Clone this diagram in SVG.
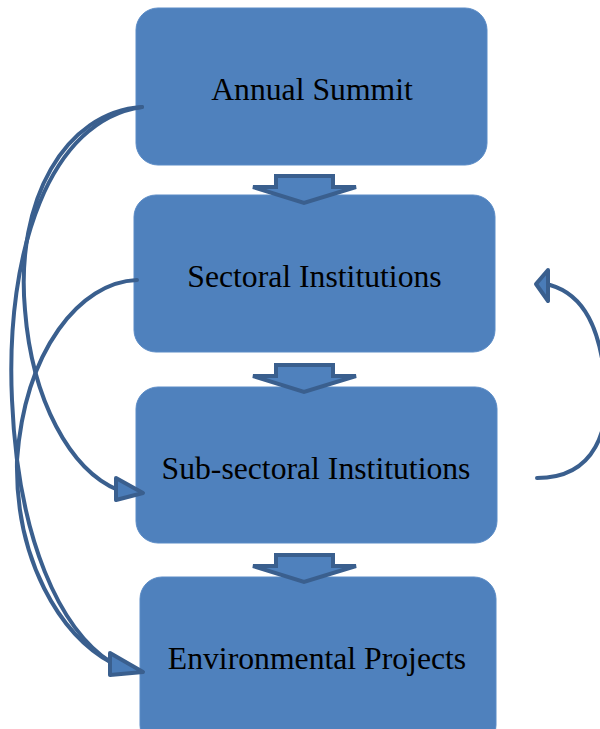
<svg xmlns="http://www.w3.org/2000/svg" width="600" height="729" viewBox="0 0 600 729">
  <style>
    .box { fill: #4f81bd; stroke: #5a8bc6; stroke-width: 1; }
    .label { font-family: "Liberation Serif", "Times New Roman", serif; font-size: 31.7px; fill: #000; text-anchor: middle; }
    .flow { fill: #4f81bd; stroke: #3a5f8e; stroke-width: 4; stroke-linejoin: miter; }
    .link { fill: none; stroke: #3a5f8e; stroke-width: 4; stroke-linecap: round; }
    .head { fill: #4a7cb8; stroke: #3a5f8e; stroke-width: 4; stroke-linejoin: round; }
  </style>
  <defs>
    <!-- down-pointing block arrow between stacked boxes -->
    <polygon id="down" points="276,0 333,0 333,11 356,11 304,27 253,11 276,11"/>
  </defs>
  <rect width="600" height="729" fill="#fff"/>

  <g id="node-annual-summit">
    <rect class="box" x="136" y="8" width="351" height="157" rx="22"/>
    <text class="label" x="312" y="100">Annual Summit</text>
  </g>
  <g id="node-sectoral">
    <rect class="box" x="134" y="195" width="361" height="157" rx="22"/>
    <text class="label" x="314.5" y="287">Sectoral Institutions</text>
  </g>
  <g id="node-subsectoral">
    <rect class="box" x="136" y="387" width="361" height="156" rx="22"/>
    <text class="label" x="316" y="479">Sub-sectoral Institutions</text>
  </g>
  <g id="node-environmental">
    <rect class="box" x="140" y="577" width="356" height="170" rx="22"/>
    <text class="label" x="317" y="669">Environmental Projects</text>
  </g>

  <g id="connectors">
    <!-- block arrows down the stack -->
    <use href="#down" class="flow" y="176"/>
    <use href="#down" class="flow" y="365"/>
    <use href="#down" class="flow" y="555"/>

    <!-- Annual Summit to Sub-sectoral Institutions -->
    <path class="link" d="M142,107 C65,112 15,200 25,310 C32,400 70,470 118,490"/>
    <polygon class="head" points="116,478 143,493 116,500"/>

    <!-- Annual Summit to Environmental Projects -->
    <path class="link" d="M142,107 C50,120 5,250 12,400 C18,540 60,630 112,663"/>
    <!-- Sectoral Institutions to Environmental Projects -->
    <path class="link" d="M137,280 C80,282 25,350 17,460 C15,560 60,635 112,663"/>
    <polygon class="head" points="110,653 143,672 110,675"/>

    <!-- feedback: Sub-sectoral back to Sectoral -->
    <path class="link" d="M537,478 C596,478 611,428 605,380 C600,330 585,295 550,285"/>
    <polygon class="head" points="548,270 536,284 548,301"/>
  </g>
</svg>
